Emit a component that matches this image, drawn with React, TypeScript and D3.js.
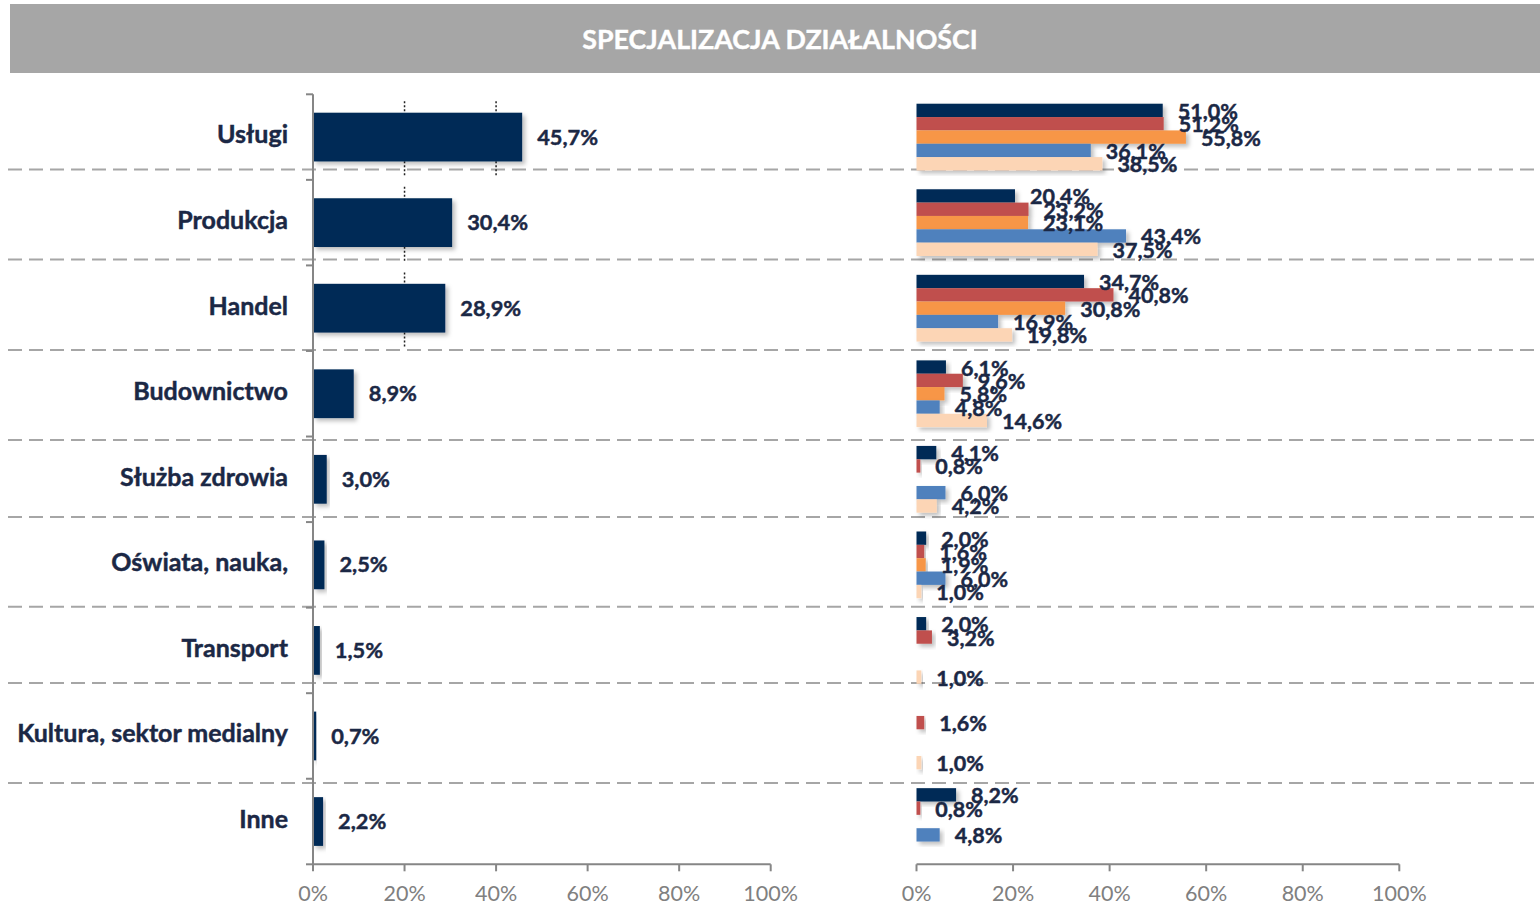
import React from "react";
import * as d3 from "d3";

const title = "SPECJALIZACJA DZIAŁALNOŚCI";
const categories = [
  "Usługi",
  "Produkcja",
  "Handel",
  "Budownictwo",
  "Służba zdrowia",
  "Oświata, nauka,",
  "Transport",
  "Kultura, sektor medialny",
  "Inne",
];
const totalValues = [45.7, 30.4, 28.9, 8.9, 3.0, 2.5, 1.5, 0.7, 2.2];

const seriesKeys = ["s1", "s2", "s3", "s4", "s5"];
const seriesColors = ["#022B57", "#C0504D", "#F79646", "#4F81BD", "#FCD5B5"];
const series1 = [51.0, 20.4, 34.7, 6.1, 4.1, 2.0, 2.0, null, 8.2];
const series2 = [51.2, 23.2, 40.8, 9.6, 0.8, 1.6, 3.2, 1.6, 0.8];
const series3 = [55.8, 23.1, 30.8, 5.8, null, 1.9, null, null, null];
const series4 = [36.1, 43.4, 16.9, 4.8, 6.0, 6.0, null, null, 4.8];
const series5 = [38.5, 37.5, 19.8, 14.6, 4.2, 1.0, 1.0, 1.0, null];
const seriesValues = [series1, series2, series3, series4, series5];

const xTicks = [0, 20, 40, 60, 80, 100];
// separator positions, in category-index units
const separatorPositions = [0.88, 1.93, 2.99, 4.04, 4.94, 5.99, 6.88, 8.05];

const W = 1540;
const H = 906;
const plotTop = 94.3;
const plotBottom = 864.3;
const FONT = "Lato, 'Open Sans', sans-serif";
const LABEL_COLOR = "#1B2845";
const AXIS_COLOR = "#868686";

const fmt = (v: number) => d3.format(".1f")(v).replace(".", ",") + "%";

const boldText = {
  fontWeight: "bold" as const,
  fill: LABEL_COLOR,
  stroke: LABEL_COLOR,
  strokeWidth: 0.45,
};

export default function App() {
  const yBand = d3
    .scaleBand<string>()
    .domain(categories)
    .range([plotTop, plotBottom])
    .paddingInner(0.43)
    .paddingOuter(0.215);
  const yGroup = d3
    .scaleBand<string>()
    .domain(categories)
    .range([plotTop, plotBottom])
    .paddingInner(0.22)
    .paddingOuter(0.11);
  const yInner = d3
    .scaleBand<string>()
    .domain(seriesKeys)
    .range([0, yGroup.bandwidth()]);
  const yIndex = d3
    .scaleLinear()
    .domain([0, categories.length])
    .range([plotTop, plotBottom]);

  const xLeft = d3.scaleLinear().domain([0, 100]).range([313, 770.7]);
  const xRight = d3.scaleLinear().domain([0, 100]).range([916.5, 1399.3]);

  const step = yBand.step();

  return (
    <div style={{ position: "absolute", left: 0, top: 0, width: W, height: H, background: "#fff" }}>
      <svg width={W} height={H} style={{ display: "block" }} fontFamily={FONT}>
        <defs>
          <filter id="shadow" x="-10%" y="-20%" width="130%" height="160%">
            <feDropShadow dx="3" dy="3" stdDeviation="2" floodColor="#000" floodOpacity="0.25" />
          </filter>
        </defs>

        {/* title bar */}
        <rect x={10} y={4} width={W - 10} height={69} fill="#A6A6A6" />
        <text
          x={780}
          y={42}
          textAnchor="middle"
          dominantBaseline="middle"
          fill="#fff"
          stroke="#fff"
          strokeWidth={0.4}
          fontWeight="bold"
          fontSize={26.8}
        >
          {title}
        </text>

        {/* separators */}
        {separatorPositions.map((p, i) => (
          <line
            key={"sep" + i}
            x1={8}
            x2={W}
            y1={yIndex(p)}
            y2={yIndex(p)}
            stroke="#A6A6A6"
            strokeWidth={2}
            strokeDasharray="14,7"
          />
        ))}

        {/* LEFT CHART */}
        {categories.map((c, i) =>
          xTicks
            .filter((t) => t > 0 && t < totalValues[i])
            .map((t) => (
              <line
                key={"g" + c + t}
                x1={xLeft(t)}
                x2={xLeft(t)}
                y1={(yBand(c) as number) - (step - yBand.bandwidth()) / 2 + 7}
                y2={(yBand(c) as number) + yBand.bandwidth() + (step - yBand.bandwidth()) / 2 - 4}
                stroke="#222"
                strokeWidth={1.5}
                strokeDasharray="2,2"
              />
            ))
        )}
        {categories.map((c, i) => (
          <rect
            key={"lb" + c}
            x={xLeft(0)}
            y={yBand(c)}
            width={xLeft(totalValues[i]) - xLeft(0)}
            height={yBand.bandwidth()}
            fill={seriesColors[0]}
            filter="url(#shadow)"
          />
        ))}
        {categories.map((c, i) => (
          <text
            key={"lv" + c}
            x={xLeft(totalValues[i]) + 15}
            y={(yBand(c) as number) + yBand.bandwidth() / 2 + 2}
            dominantBaseline="middle"
            fontSize={21.8}
            {...boldText}
          >
            {fmt(totalValues[i])}
          </text>
        ))}
        {categories.map((c) => (
          <text
            key={"cl" + c}
            x={288}
            y={(yBand(c) as number) + yBand.bandwidth() / 2}
            textAnchor="end"
            dominantBaseline="middle"
            fontSize={25}
            {...boldText}
          >
            {c}
          </text>
        ))}
        {/* left y axis */}
        <line x1={xLeft(0)} x2={xLeft(0)} y1={plotTop} y2={plotBottom} stroke={AXIS_COLOR} strokeWidth={2} />
        {d3.range(categories.length + 1).map((i) => (
          <line
            key={"yt" + i}
            x1={xLeft(0) - 7}
            x2={xLeft(0)}
            y1={yIndex(i)}
            y2={yIndex(i)}
            stroke={AXIS_COLOR}
            strokeWidth={2}
          />
        ))}
        {/* left x axis */}
        <line x1={xLeft(0)} x2={xLeft(100)} y1={plotBottom} y2={plotBottom} stroke={AXIS_COLOR} strokeWidth={2} />
        {xTicks.map((t) => (
          <g key={"lx" + t}>
            <line x1={xLeft(t)} x2={xLeft(t)} y1={plotBottom} y2={plotBottom + 7} stroke={AXIS_COLOR} strokeWidth={2} />
            <text
              x={xLeft(t)}
              y={plotBottom + 31}
              textAnchor="middle"
              dominantBaseline="middle"
              fontSize={21.5}
              fill="#808080"
            >
              {t}%
            </text>
          </g>
        ))}

        {/* RIGHT CHART */}
        {categories.map((c, i) => (
          <g key={"rg" + c} transform={`translate(0,${yGroup(c)})`}>
            {seriesKeys.map((k, s) => {
              const v = seriesValues[s][i];
              if (v == null) return null;
              return (
                <rect
                  key={k}
                  x={xRight(0)}
                  y={yInner(k)}
                  width={xRight(v) - xRight(0)}
                  height={yInner.bandwidth()}
                  fill={seriesColors[s]}
                  filter="url(#shadow)"
                />
              );
            })}
          </g>
        ))}
        {categories.map((c, i) => (
          <g key={"rl" + c} transform={`translate(0,${yGroup(c)})`}>
            {seriesKeys.map((k, s) => {
              const v = seriesValues[s][i];
              if (v == null) return null;
              return (
                <text
                  key={k}
                  x={xRight(v) + 15}
                  y={(yInner(k) as number) + yInner.bandwidth() / 2 + 3}
                  dominantBaseline="middle"
                  fontSize={21.5}
                  {...boldText}
                >
                  {fmt(v)}
                </text>
              );
            })}
          </g>
        ))}
        <line x1={xRight(0)} x2={xRight(100)} y1={plotBottom} y2={plotBottom} stroke={AXIS_COLOR} strokeWidth={2} />
        {xTicks.map((t) => (
          <g key={"rx" + t}>
            <line x1={xRight(t)} x2={xRight(t)} y1={plotBottom} y2={plotBottom + 7} stroke={AXIS_COLOR} strokeWidth={2} />
            <text
              x={xRight(t)}
              y={plotBottom + 31}
              textAnchor="middle"
              dominantBaseline="middle"
              fontSize={21.5}
              fill="#808080"
            >
              {t}%
            </text>
          </g>
        ))}
      </svg>
    </div>
  );
}
